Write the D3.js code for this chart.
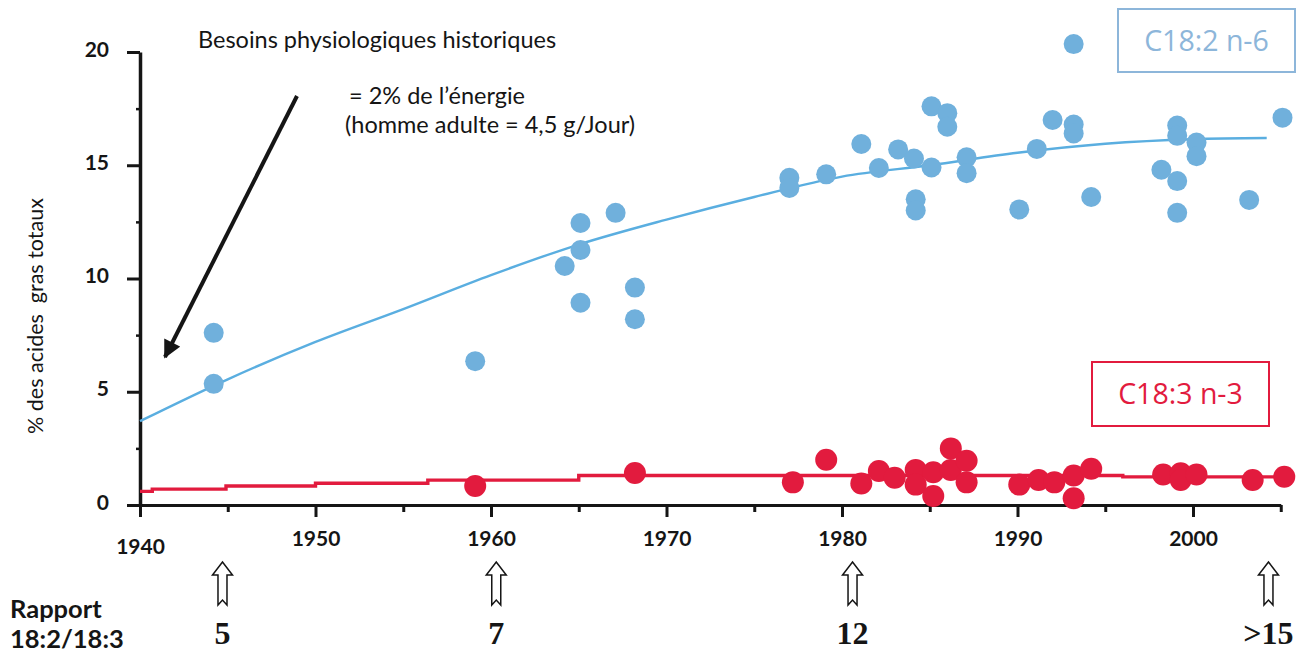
<!DOCTYPE html>
<html>
<head>
<meta charset="utf-8">
<script src="https://cdn.jsdelivr.net/npm/d3@7"></script>
<style>
  html, body { margin: 0; padding: 0; background: #fff; }
  svg { display: block; }
</style>
</head>
<body>
<svg id="chart" width="1311" height="657"></svg>
<script>
// Linoleic (C18:2 n-6) measurements, % of total fatty acids
const n6Years  = [1944.2, 1944.2, 1959.1, 1964.2, 1965.1, 1965.1, 1965.1, 1967.1, 1968.2, 1968.2,
                  1977.0, 1977.0, 1979.1, 1981.1, 1982.1, 1983.2, 1984.1, 1985.1, 1984.2, 1984.2,
                  1985.1, 1986.0, 1986.0, 1987.1, 1987.1, 1990.1, 1991.1, 1992.0, 1993.2, 1993.2,
                  1993.2, 1994.2, 1998.2, 1999.1, 1999.1, 1999.1, 1999.1, 2000.2, 2000.2, 2003.2, 2005.1];
const n6Values = [7.6, 5.35, 6.35, 10.55, 12.45, 11.26, 8.93, 12.9, 9.6, 8.2,
                  14.45, 14.0, 14.6, 15.94, 14.88, 15.7, 15.3, 14.9, 13.5, 13.0,
                  17.6, 17.3, 16.7, 15.35, 14.65, 13.05, 15.72, 17.0, 20.35, 16.8,
                  16.4, 13.6, 14.8, 16.75, 16.3, 14.3, 12.9, 16.0, 15.4, 13.47, 17.1];

// Alpha-linolenic (C18:3 n-3) measurements
const n3Years  = [1959.1, 1968.2, 1977.2, 1979.1, 1981.1, 1982.1, 1983.0, 1984.2, 1984.2, 1985.2,
                  1985.2, 1986.2, 1986.2, 1987.1, 1987.1, 1990.1, 1991.2, 1992.1, 1993.2, 1993.2,
                  1994.2, 1998.3, 1999.3, 1999.3, 2000.2, 2003.4, 2005.2];
const n3Values = [0.84, 1.41, 1.0, 2.0, 0.95, 1.5, 1.2, 1.55, 0.9, 1.45,
                  0.4, 2.5, 1.55, 1.95, 1.0, 0.9, 1.1, 1.0, 1.3, 0.3,
                  1.6, 1.35, 1.4, 1.1, 1.35, 1.1, 1.25];

// Fitted trends
const n6TrendYears  = [1940, 1945, 1950, 1955, 1960, 1965, 1970, 1975, 1980, 1985, 1990, 1995, 2000, 2004.2];
const n6TrendValues = [3.7, 5.55, 7.2, 8.65, 10.15, 11.5, 12.6, 13.6, 14.5, 15.0, 15.55, 15.95, 16.15, 16.2];
const n3TrendYears  = [1940, 1940.7, 1944.9, 1950.0, 1956.4, 1965.0, 1996.0, 2005];
const n3TrendValues = [0.6, 0.7, 0.84, 0.96, 1.1, 1.3, 1.24, 1.24];

// Axis ticks
const yearMajor = [1940, 1950, 1960, 1970, 1980, 1990, 2000];
const yearMinor = [1945, 1955, 1965, 1975, 1985, 1995, 2005];
const valueMajor = [0, 5, 10, 15, 20];
const valueMinor = [2.5, 7.5, 12.5, 17.5];

// 18:2 / 18:3 ratio milestones
const ratioYears  = [1944.7, 1960.3, 1980.6, 2004.3];
const ratioLabels = ["5", "7", "12", ">15"];

const BLUE_DOT = "#70b0dc";
const BLUE_LINE = "#5aaee0";
const BLUE_LEGEND = "#8db6da";
const RED = "#e21b3e";
const INK = "#151515";
const SANS = "Lato, 'Open Sans', sans-serif";

const svg = d3.select("#chart");

const x = d3.scaleLinear().domain([1940, 2005]).range([140, 1280.75]);
const y = d3.scaleLinear().domain([0, 20]).range([505, 52]);

// ---- axes ----
const gx = svg.append("g").attr("transform", `translate(0,${y(0)})`);
gx.call(d3.axisBottom(x).tickValues(yearMinor).tickSize(7).tickSizeOuter(0).tickFormat(""));
gx.call(g => g.select(".domain").remove());
const gxMaj = svg.append("g").attr("transform", `translate(0,${y(0)})`)
  .call(d3.axisBottom(x).tickValues(yearMajor).tickSize(12).tickSizeOuter(0)
        .tickPadding(22).tickFormat(d3.format("d")));
svg.selectAll("g").selectAll(".tick line").attr("stroke", INK).attr("stroke-width", 3);
gxMaj.select(".domain").attr("stroke", INK).attr("stroke-width", 3);
gxMaj.selectAll(".tick text")
  .attr("font-family", SANS).attr("font-weight", 700).attr("font-size", 21)
  .attr("fill", INK)
  .attr("dy", d => d === 1940 ? "0.71em" : "0.35em");

const gyMin = svg.append("g").attr("transform", `translate(${x(1940)},0)`)
  .call(d3.axisLeft(y).tickValues(valueMinor).tickSize(4).tickFormat(""));
gyMin.select(".domain").remove();
gyMin.selectAll(".tick line").attr("stroke", INK).attr("stroke-width", 2.5);
const gy = svg.append("g").attr("transform", `translate(${x(1940)},0)`)
  .call(d3.axisLeft(y).tickValues(valueMajor).tickSize(13).tickSizeOuter(0).tickPadding(18));
gy.select(".domain").attr("stroke", INK).attr("stroke-width", 3.5);
gy.selectAll(".tick line").attr("stroke", INK).attr("stroke-width", 3);
gy.selectAll(".tick text")
  .attr("font-family", SANS).attr("font-weight", 700).attr("font-size", 21)
  .attr("fill", INK).attr("dy", "0.2em");

// y-axis title
svg.append("text")
  .attr("transform", `translate(43,316) rotate(-90)`)
  .attr("text-anchor", "middle")
  .attr("font-family", SANS).attr("font-size", 21.5).attr("fill", INK)
  .attr("xml:space", "preserve")
  .text("% des acides  gras totaux");

// ---- trend lines ----
const n6Trend = n6TrendYears.map((t, i) => [t, n6TrendValues[i]]);
const n3Trend = n3TrendYears.map((t, i) => [t, n3TrendValues[i]]);

svg.append("path")
  .datum(n6Trend)
  .attr("fill", "none").attr("stroke", BLUE_LINE).attr("stroke-width", 2.4)
  .attr("d", d3.line().x(d => x(d[0])).y(d => y(d[1])).curve(d3.curveMonotoneX));

svg.append("path")
  .datum(n3Trend)
  .attr("fill", "none").attr("stroke", RED).attr("stroke-width", 3.4)
  .attr("d", d3.line().x(d => x(d[0])).y(d => y(d[1])).curve(d3.curveStepAfter));

// ---- measurement dots ----
svg.append("g").selectAll("circle")
  .data(n6Years.map((t, i) => [t, n6Values[i]]))
  .join("circle")
  .attr("cx", d => x(d[0])).attr("cy", d => y(d[1])).attr("r", 10)
  .attr("fill", BLUE_DOT);

svg.append("g").selectAll("circle")
  .data(n3Years.map((t, i) => [t, n3Values[i]]))
  .join("circle")
  .attr("cx", d => x(d[0])).attr("cy", d => y(d[1])).attr("r", 11)
  .attr("fill", RED);

// ---- historical requirement annotation ----
svg.append("defs").append("marker")
  .attr("id", "head").attr("viewBox", "0 0 10 10")
  .attr("refX", 9).attr("refY", 5)
  .attr("markerWidth", 5).attr("markerHeight", 4.5)
  .attr("orient", "auto")
  .append("path").attr("d", "M0,0 L10,5 L0,10 Z").attr("fill", INK);

svg.append("line")
  .attr("x1", 297).attr("y1", 96).attr("x2", 165).attr("y2", 357)
  .attr("stroke", INK).attr("stroke-width", 4)
  .attr("marker-end", "url(#head)");

const note = svg.append("g").attr("font-family", SANS).attr("font-size", 23.5).attr("fill", INK);
note.append("text").attr("x", 198).attr("y", 48).text("Besoins physiologiques historiques");
note.append("text").attr("x", 349).attr("y", 104).text("= 2% de l\u2019énergie");
note.append("text").attr("x", 345).attr("y", 133).text("(homme adulte = 4,5 g/Jour)");

// ---- legend boxes ----
function legendBox(x0, y0, w, h, color, label) {
  svg.append("rect")
    .attr("x", x0).attr("y", y0).attr("width", w).attr("height", h)
    .attr("fill", "none").attr("stroke", color).attr("stroke-width", 2);
  svg.append("text")
    .attr("x", x0 + w / 2).attr("y", y0 + h / 2)
    .attr("dy", "0.36em")
    .attr("text-anchor", "middle")
    .attr("font-family", "'Open Sans', sans-serif").attr("font-size", 28.5)
    .attr("fill", color)
    .text(label);
}
legendBox(1118, 9, 177, 63, BLUE_LEGEND, "C18:2 n-6");
legendBox(1092, 362, 177, 64, RED, "C18:3 n-3");

// ---- ratio milestones ----
svg.append("text").attr("x", 10).attr("y", 618)
  .attr("font-family", SANS).attr("font-weight", 700).attr("font-size", 25.5).attr("fill", INK)
  .text("Rapport");
svg.append("text").attr("x", 10).attr("y", 648)
  .attr("font-family", SANS).attr("font-weight", 700).attr("font-size", 25.5).attr("fill", INK)
  .text("18:2/18:3");

function upArrow(cx, top) {
  const p = d3.path();
  p.moveTo(cx, top);
  p.lineTo(cx + 10, top + 13);
  p.lineTo(cx + 4.5, top + 13);
  p.lineTo(cx + 4.5, top + 43);
  p.lineTo(cx, top + 38);
  p.lineTo(cx - 4.5, top + 43);
  p.lineTo(cx - 4.5, top + 13);
  p.lineTo(cx - 10, top + 13);
  p.closePath();
  return p.toString();
}

const ratio = svg.append("g");
ratio.selectAll("path")
  .data(ratioYears)
  .join("path")
  .attr("d", t => upArrow(x(t), 562))
  .attr("fill", "#fff").attr("stroke", INK).attr("stroke-width", 1.5);
ratio.selectAll("text")
  .data(ratioYears)
  .join("text")
  .attr("x", t => x(t)).attr("y", 644)
  .attr("text-anchor", "middle")
  .attr("font-family", "'Liberation Serif', 'Times New Roman', serif")
  .attr("font-weight", 700).attr("font-size", 32).attr("fill", INK)
  .text((t, i) => ratioLabels[i]);
</script>
</body>
</html>
